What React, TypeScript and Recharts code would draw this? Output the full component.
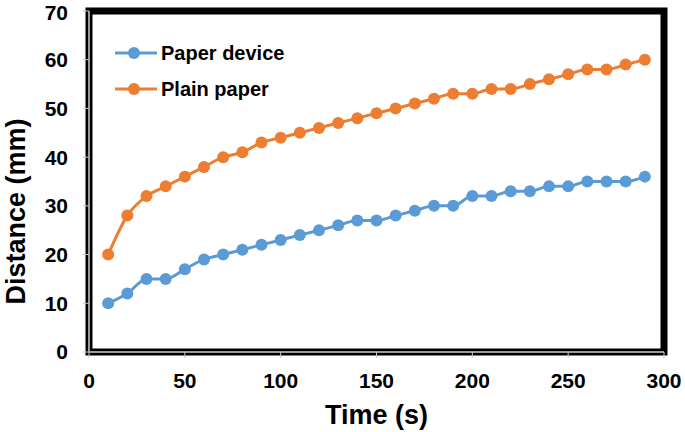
import React from 'react';
import { LineChart, Line, XAxis, YAxis, Legend, ReferenceArea, Label } from 'recharts';

const times = [10, 20, 30, 40, 50, 60, 70, 80, 90, 100, 110, 120, 130, 140, 150, 160, 170, 180, 190, 200, 210, 220, 230, 240, 250, 260, 270, 280, 290];
const paperDevice = [10, 12, 15, 15, 17, 19, 20, 21, 22, 23, 24, 25, 26, 27, 27, 28, 29, 30, 30, 32, 32, 33, 33, 34, 34, 35, 35, 35, 36];
const plainPaper = [20, 28, 32, 34, 36, 38, 40, 41, 43, 44, 45, 46, 47, 48, 49, 50, 51, 52, 53, 53, 54, 54, 55, 56, 57, 58, 58, 59, 60];
const xTicks = [0, 50, 100, 150, 200, 250, 300];
const yTicks = [0, 10, 20, 30, 40, 50, 60, 70];

const data = times.map((t, i) => ({ t, device: paperDevice[i], plain: plainPaper[i] }));

const FONT = "Arial, 'Liberation Sans', sans-serif";
const BLUE = '#5b9bd5';
const ORANGE = '#ed7d31';

const renderLegend = (props: any) => {
  const { payload } = props;
  return (
    <div style={{ fontFamily: FONT }}>
      {(payload || []).map((entry: any) => (
        <div key={entry.value} style={{ display: 'flex', alignItems: 'center', height: 36 }}>
          <svg width={42} height={14} style={{ display: 'block' }}>
            <line x1={0} y1={7} x2={42} y2={7} stroke={entry.color} strokeWidth={3} />
            <circle cx={19} cy={7} r={6} fill={entry.color} />
          </svg>
          <span style={{ marginLeft: 4, fontSize: 20, fontWeight: 'bold', color: '#000', lineHeight: '20px' }}>
            {entry.value}
          </span>
        </div>
      ))}
    </div>
  );
};

const YTitle = (props: any) => {
  const vb = props.viewBox || { x: 0, y: 0, width: 0, height: 0 };
  const cx = vb.x + 16;
  const cy = vb.y + vb.height / 2 + 30;
  return (
    <text
      x={cx}
      y={cy}
      transform={`rotate(-90 ${cx} ${cy})`}
      textAnchor="middle"
      dominantBaseline="central"
      fontFamily={FONT}
      fontWeight="bold"
      fontSize={27}
      fill="#000"
    >
      Distance (mm)
    </text>
  );
};

export default function App() {
  return (
    <div style={{ position: 'absolute', left: 0, top: 0, background: '#fff' }}>
      <LineChart width={685} height={432} data={data} margin={{ top: 11, right: 21, bottom: 0, left: 0 }}>
        <ReferenceArea x1={0} x2={300} y1={0} y2={70} fill="none" stroke="#000" strokeWidth={7} strokeOpacity={1} ifOverflow="visible" />
        <XAxis
          dataKey="t"
          type="number"
          domain={[0, 300]}
          ticks={xTicks}
          height={80}
          axisLine={{ stroke: '#9a9a9a', strokeWidth: 2 }}
          tickLine={{ stroke: '#c8c8c8', strokeWidth: 1 }}
          tickSize={6}
          tickMargin={15}
          tick={{ fill: '#000', fontSize: 21, fontWeight: 'bold', fontFamily: FONT }}
        >
          <Label
            value="Time (s)"
            position="insideBottom"
            offset={8}
            style={{ fontFamily: FONT, fontWeight: 'bold', fontSize: 27, fill: '#000' }}
          />
        </XAxis>
        <YAxis
          type="number"
          domain={[0, 70]}
          ticks={yTicks}
          width={89}
          axisLine={{ stroke: '#9a9a9a', strokeWidth: 2 }}
          tickLine={{ stroke: '#c8c8c8', strokeWidth: 1 }}
          tickSize={6}
          tickMargin={15}
          tick={{ fill: '#000', fontSize: 21, fontWeight: 'bold', fontFamily: FONT }}
        >
          <Label content={<YTitle />} />
        </YAxis>
        <Legend
          layout="vertical"
          align="center"
          verticalAlign="middle"
          content={renderLegend}
          wrapperStyle={{ top: 35, left: 115, width: 'auto' }}
        />
        <Line
          name="Paper device"
          dataKey="device"
          type="monotone"
          stroke={BLUE}
          strokeWidth={3}
          dot={{ r: 6, fill: BLUE, stroke: 'none' }}
          activeDot={false}
          isAnimationActive={false}
        />
        <Line
          name="Plain paper"
          dataKey="plain"
          type="monotone"
          stroke={ORANGE}
          strokeWidth={3}
          dot={{ r: 6, fill: ORANGE, stroke: 'none' }}
          activeDot={false}
          isAnimationActive={false}
        />
      </LineChart>
    </div>
  );
}
